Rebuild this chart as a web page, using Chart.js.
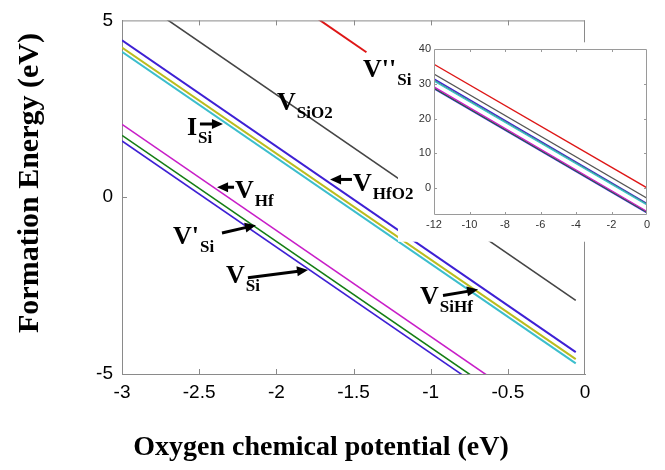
<!DOCTYPE html>
<html><head><meta charset="utf-8">
<script src="https://cdn.jsdelivr.net/npm/chart.js@4/dist/chart.umd.min.js"></script>
<style>
html,body{margin:0;padding:0;background:#fff;}
#wrap{position:relative;width:665px;height:470px;overflow:hidden;}
#main{position:absolute;left:0;top:0;}
#inset{position:absolute;left:400px;top:38px;}
</style></head><body>
<div id="wrap">
<canvas id="main" width="665" height="470"></canvas>
<canvas id="inset" width="260" height="200"></canvas>
</div>
<script>
// ---- data ----
const mainX = [-3, -0.06];
const redMainX = [-3, -1.416];
const vHfO2 = [4.44, -4.38];
const vSiHf = [4.23, -4.58];
const iSi = [4.11, -4.70];
const vSiO2 = [5.9, -2.92];
const vppSi = [8.85, 4.10];
const vHf = [2.06, -6.76];
const vpSi = [1.75, -7.07];
const vSi = [1.59, -7.23];

const insetX = [-12, 0];
const inRed = [35.6, 0.1];
const inGray = [32.8, -2.9];
const inBlueU = [31.4, -4.4];
const inYellow = [31.0, -4.6];
const inCyan = [30.8, -4.8];
const inMagenta = [29.1, -6.7];
const inGreen = [28.8, -6.9];
const inBlueL = [28.6, -7.1];

const xTicksMain = [-3, -2.5, -2, -1.5, -1, -0.5, 0];
const yTicksMain = [-5, 0, 5];
const xTicksInset = [-12, -10, -8, -6, -4, -2, 0];
const yTicksInset = [0, 10, 20, 30, 40];

const C = {
  blue: 'rgb(62,32,212)', yellow: 'rgb(188,188,30)', cyan: 'rgb(60,190,205)',
  gray: '#454545', red: 'rgb(222,22,22)', magenta: 'rgb(200,30,200)', green: 'rgb(20,125,20)'
};

const notes = [
  {t: "V''", s: 'Si', x: -1.438, y: 3.39},
  {t: 'V', s: 'SiO2', x: -1.996, y: 2.455},
  {t: 'I', s: 'Si', x: -2.579, y: 1.768},
  {t: 'V', s: 'Hf', x: -2.268, y: -0.021},
  {t: 'V', s: 'HfO2', x: -1.503, y: 0.172},
  {t: "V'", s: 'Si', x: -2.670, y: -1.314},
  {t: 'V', s: 'Si', x: -2.326, y: -2.414},
  {t: 'V', s: 'SiHf', x: -1.069, y: -3.019}
];
const arrows = [
  [-2.495, 2.070, -2.346, 2.070],
  [-2.274, 0.282, -2.384, 0.282],
  [-1.510, 0.502, -1.652, 0.502],
  [-2.352, -1.011, -2.132, -0.791],
  [-2.184, -2.276, -1.795, -2.056],
  [-0.920, -2.778, -0.693, -2.613]
];
const insetBox = {x0: -1.212, y0: 4.381, y1: -1.259};

const pts = (xs, ys) => xs.map((x, i) => ({x: x, y: ys[i]}));
const ds = (xs, ys, c, w) => ({data: pts(xs, ys), borderColor: c, borderWidth: w, pointRadius: 0, fill: false, tension: 0});

const serif = '"Liberation Serif","Times New Roman",serif';
const sans = '"Liberation Sans",Arial,Helvetica,sans-serif';
const plain = v => String(Math.round(v * 100) / 100);

function keepTicks(list) {
  return s => { s.ticks = list.map(v => ({value: v})); };
}

function arrow(ctx, x1, y1, x2, y2) {
  const a = Math.atan2(y2 - y1, x2 - x1), L = 11, W = 5;
  const ca = Math.cos(a), sa = Math.sin(a);
  ctx.save();
  ctx.strokeStyle = '#000'; ctx.fillStyle = '#000'; ctx.lineWidth = 3; ctx.lineCap = 'butt';
  ctx.beginPath(); ctx.moveTo(x1, y1); ctx.lineTo(x2 - L * 0.7 * ca, y2 - L * 0.7 * sa); ctx.stroke();
  ctx.beginPath(); ctx.moveTo(x2, y2);
  ctx.lineTo(x2 - L * ca + W * sa, y2 - L * sa - W * ca);
  ctx.lineTo(x2 - L * ca - W * sa, y2 - L * sa + W * ca);
  ctx.closePath(); ctx.fill();
  ctx.restore();
}

const mainPlugin = {
  id: 'mainDeco',
  afterDatasetsDraw(chart) {
    const ctx = chart.ctx, a = chart.chartArea, xs = chart.scales.x, ys = chart.scales.y;
    ctx.save();
    ctx.strokeStyle = '#8a8a8a'; ctx.lineWidth = 1;
    ctx.beginPath();
    ctx.moveTo(a.left, a.top + 0.5); ctx.lineTo(a.right, a.top + 0.5);
    ctx.moveTo(a.right - 0.5, a.top); ctx.lineTo(a.right - 0.5, a.bottom);
    xTicksMain.slice(1, -1).forEach(v => {
      const p = Math.round(xs.getPixelForValue(v)) + 0.5;
      ctx.moveTo(p, a.bottom); ctx.lineTo(p, a.bottom - 5);
      ctx.moveTo(p, a.top); ctx.lineTo(p, a.top + 5);
    });
    yTicksMain.slice(1, -1).forEach(v => {
      const p = Math.round(ys.getPixelForValue(v)) + 0.5;
      ctx.moveTo(a.left, p); ctx.lineTo(a.left + 5, p);
      ctx.moveTo(a.right, p); ctx.lineTo(a.right - 5, p);
    });
    ctx.stroke();
    // white backdrop of the inset
    const bx = xs.getPixelForValue(insetBox.x0), by0 = ys.getPixelForValue(insetBox.y0), by1 = ys.getPixelForValue(insetBox.y1);
    ctx.fillStyle = '#fff';
    ctx.fillRect(bx, by0, chart.width - bx, by1 - by0);
    ctx.restore();
  },
  afterDraw(chart) {
    const ctx = chart.ctx, xs = chart.scales.x, ys = chart.scales.y;
    ctx.save();
    ctx.fillStyle = '#000'; ctx.textBaseline = 'alphabetic'; ctx.textAlign = 'left';
    notes.forEach(n => {
      const px = xs.getPixelForValue(n.x), py = ys.getPixelForValue(n.y);
      ctx.font = 'bold 26px ' + serif;
      ctx.fillText(n.t, px, py);
      const w = ctx.measureText(n.t).width;
      ctx.font = 'bold 17px ' + serif;
      ctx.fillText(n.s, px + w + 1, py + 8);
    });
    arrows.forEach(r => arrow(ctx, xs.getPixelForValue(r[0]), ys.getPixelForValue(r[1]), xs.getPixelForValue(r[2]), ys.getPixelForValue(r[3])));
    // axis titles
    ctx.font = 'bold 28px ' + serif;
    ctx.textAlign = 'center';
    ctx.fillText('Oxygen chemical potential (eV)', 321, 455);
    ctx.font = 'bold 30px ' + serif;
    ctx.translate(38, 183);
    ctx.rotate(-Math.PI / 2);
    ctx.fillText('Formation Energy (eV)', 0, 0);
    ctx.restore();
  }
};

new Chart(document.getElementById('main'), {
  type: 'line',
  data: {
    datasets: [
      ds(mainX, vSiO2, C.gray, 1.6),
      ds(redMainX, vppSi, C.red, 2),
      ds(mainX, iSi, C.cyan, 2),
      ds(mainX, vSiHf, C.yellow, 2),
      ds(mainX, vHfO2, C.blue, 2),
      ds(mainX, vSi, C.blue, 1.6),
      ds(mainX, vpSi, C.green, 1.6),
      ds(mainX, vHf, C.magenta, 1.6)
    ]
  },
  options: {
    responsive: false, animation: false,
    layout: {padding: {top: 10, right: 80, left: 0, bottom: 0}},
    plugins: {legend: {display: false}, tooltip: {enabled: false}},
    scales: {
      x: {
        type: 'linear', min: -3, max: 0,
        afterBuildTicks: keepTicks(xTicksMain),
        ticks: {font: {family: sans, size: 19}, color: '#000', padding: 7, maxRotation: 0, autoSkip: false, callback: plain},
        grid: {display: true, drawOnChartArea: false, drawTicks: false},
        border: {color: '#8a8a8a', width: 1},
        afterFit: s => { s.height = 96; }
      },
      y: {
        type: 'linear', min: -5, max: 5,
        afterBuildTicks: keepTicks(yTicksMain),
        ticks: {font: {family: sans, size: 19}, color: '#000', padding: 9, autoSkip: false, callback: plain},
        grid: {display: true, drawOnChartArea: false, drawTicks: false},
        border: {color: '#8a8a8a', width: 1},
        afterFit: s => { s.width = 122; }
      }
    }
  },
  plugins: [mainPlugin]
});

const insetPlugin = {
  id: 'insetDeco',
  afterDatasetsDraw(chart) {
    const ctx = chart.ctx, a = chart.chartArea, xs = chart.scales.x, ys = chart.scales.y;
    ctx.save();
    ctx.strokeStyle = '#9a9a9a'; ctx.lineWidth = 1;
    ctx.beginPath();
    ctx.rect(a.left + 0.5, a.top + 0.5, a.right - a.left - 1, a.bottom - a.top - 1);
    xTicksInset.slice(1, -1).forEach(v => {
      const p = Math.round(xs.getPixelForValue(v)) + 0.5;
      ctx.moveTo(p, a.bottom); ctx.lineTo(p, a.bottom - 3);
      ctx.moveTo(p, a.top); ctx.lineTo(p, a.top + 3);
    });
    yTicksInset.slice(0, -1).forEach(v => {
      const p = Math.round(ys.getPixelForValue(v)) + 0.5;
      ctx.moveTo(a.left, p); ctx.lineTo(a.left + 3, p);
      ctx.moveTo(a.right, p); ctx.lineTo(a.right - 3, p);
    });
    ctx.stroke();
    ctx.restore();
  }
};

new Chart(document.getElementById('inset'), {
  type: 'line',
  data: {
    datasets: [
      ds(insetX, inRed, C.red, 1.3),
      ds(insetX, inGray, '#555', 1.3),
      ds(insetX, inCyan, C.cyan, 1.3),
      ds(insetX, inYellow, 'rgb(60,150,110)', 1.3),
      ds(insetX, inBlueU, C.blue, 1.3),
      ds(insetX, inMagenta, C.magenta, 1.3),
      ds(insetX, inGreen, C.green, 1.3),
      ds(insetX, inBlueL, C.blue, 1.5)
    ]
  },
  options: {
    responsive: false, animation: false,
    layout: {padding: {top: 11, right: 13, left: 0, bottom: 0}},
    plugins: {legend: {display: false}, tooltip: {enabled: false}},
    scales: {
      x: {
        type: 'linear', min: -12, max: 0,
        afterBuildTicks: keepTicks(xTicksInset),
        ticks: {font: {family: sans, size: 11}, color: '#333', padding: 3, maxRotation: 0, autoSkip: false, callback: plain},
        grid: {display: false, drawTicks: false},
        border: {display: false},
        afterFit: s => { s.height = 23; }
      },
      y: {
        type: 'linear', min: -7.7, max: 40,
        afterBuildTicks: keepTicks(yTicksInset),
        ticks: {font: {family: sans, size: 11}, color: '#333', padding: 3, autoSkip: false, callback: plain},
        grid: {display: false, drawTicks: false},
        border: {display: false},
        afterFit: s => { s.width = 34; }
      }
    }
  },
  plugins: [insetPlugin]
});
</script>
</body></html>
